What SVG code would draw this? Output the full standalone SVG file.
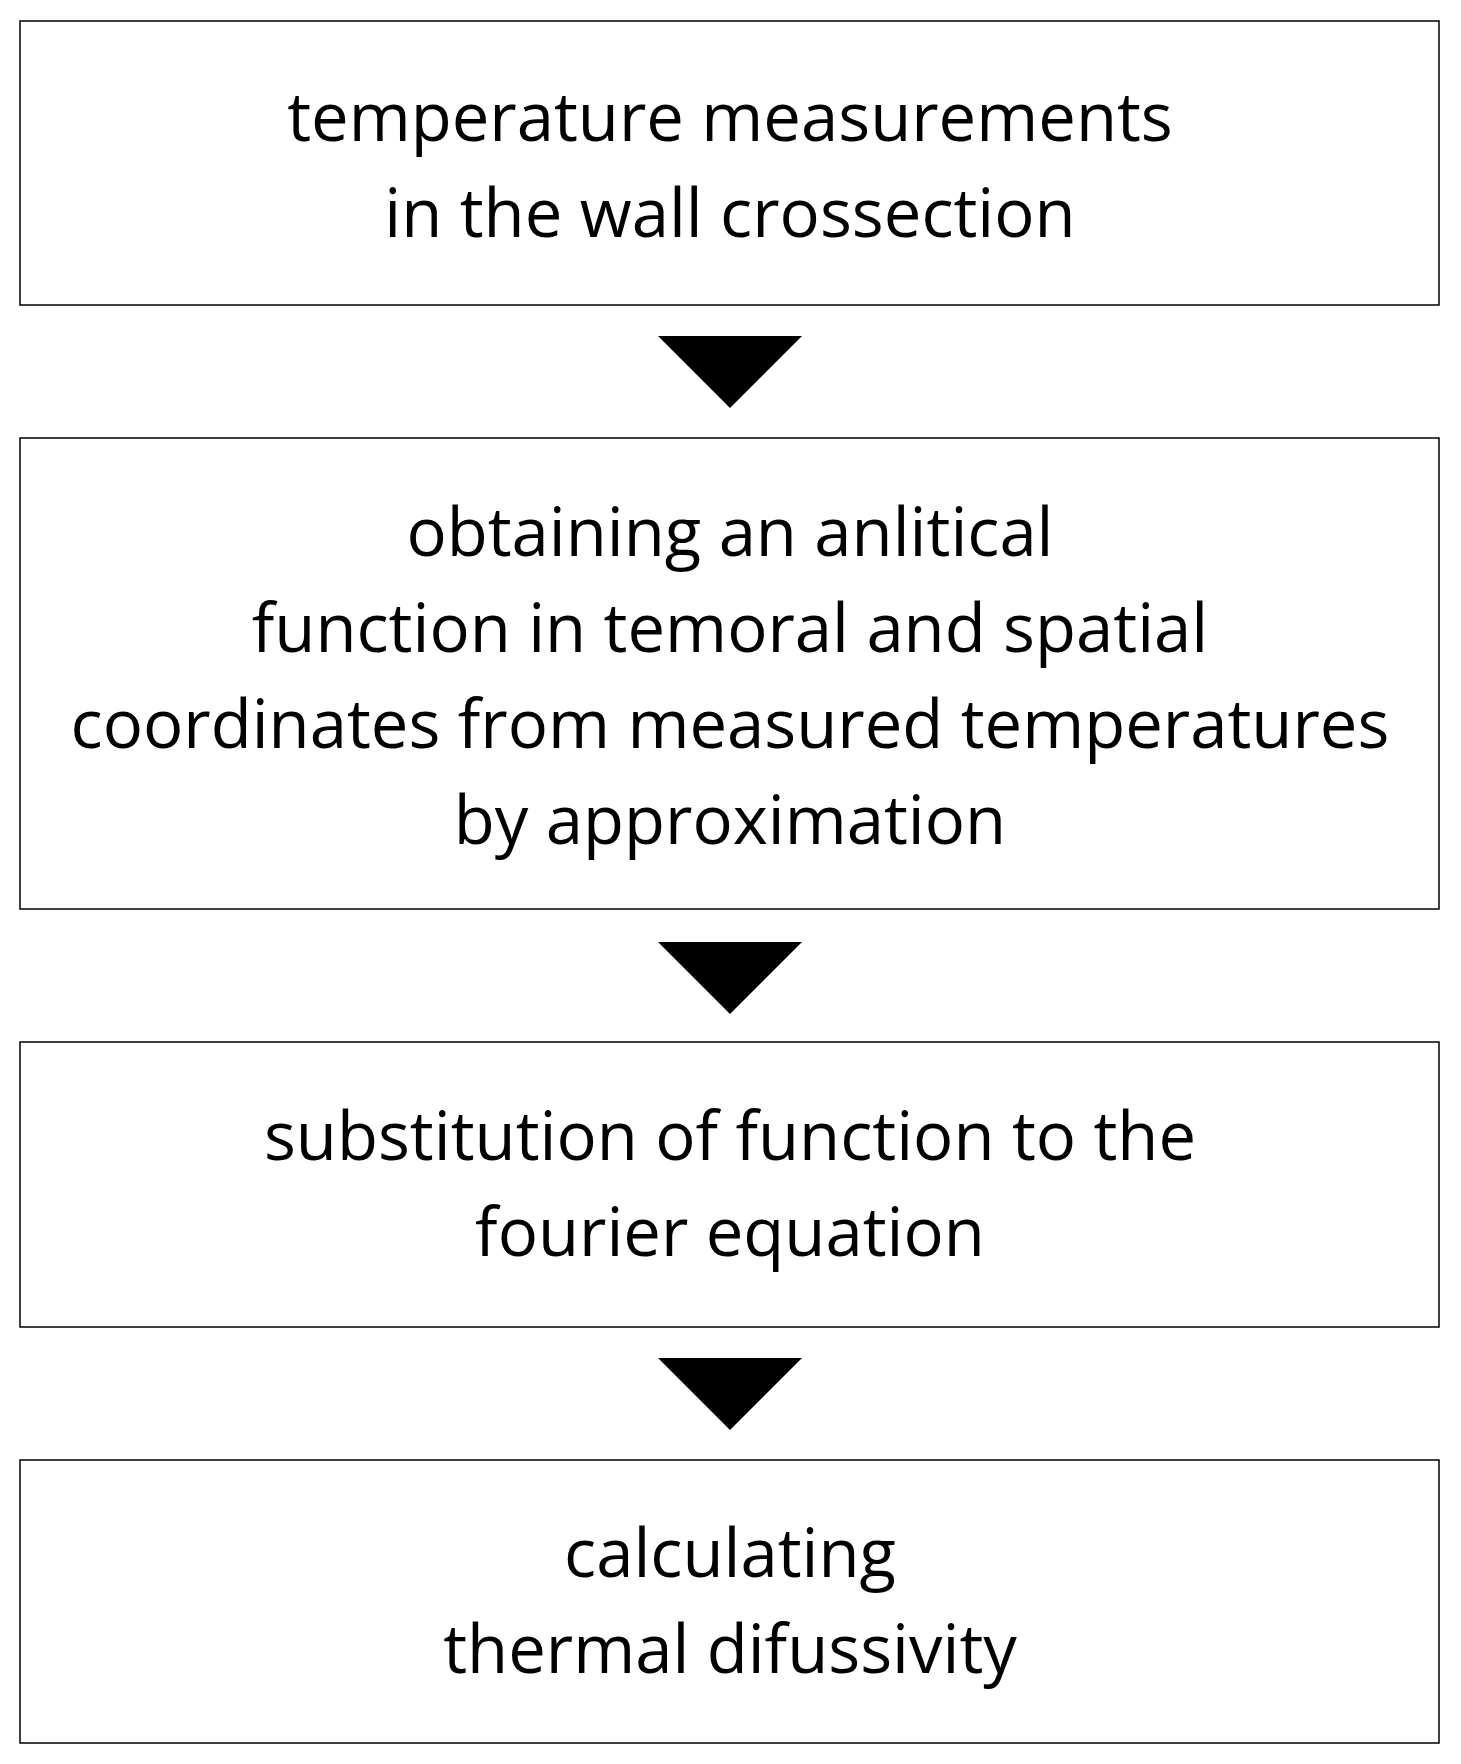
<svg xmlns="http://www.w3.org/2000/svg" width="1461" height="1764" viewBox="0 0 1461 1764">
<style>
rect{fill:#fff;stroke:#000;stroke-width:1.5}
text{font-family:"Open Sans","DejaVu Sans",sans-serif;font-size:67px;text-anchor:middle;fill:#000}
.a{fill:#000}
</style>
<rect x="0" y="0" width="1461" height="1764" style="stroke:none"/>
<g id="n1"><rect x="20" y="21" width="1419" height="284"/><text x="730" y="141">temperature measurements</text><text x="730" y="237">in the wall crossection</text></g>
<g id="n2"><rect x="20" y="438" width="1419" height="471"/><text x="730" y="556">obtaining an anlitical</text><text x="730" y="652">function in temoral and spatial</text><text x="730" y="748">coordinates from measured temperatures</text><text x="730" y="844">by approximation</text></g>
<g id="n3"><rect x="20" y="1042" width="1419" height="285"/><text x="730" y="1160">substitution of function to the</text><text x="730" y="1256">fourier equation</text></g>
<g id="n4"><rect x="20" y="1460" width="1419" height="283"/><text x="730" y="1577">calculating</text><text x="730" y="1673">thermal difussivity</text></g>
<g id="connectors"><polygon class="a" points="658,336 802,336 730,408"/><polygon class="a" points="658,942 802,942 730,1014"/><polygon class="a" points="658,1358 802,1358 730,1430"/></g>
</svg>
